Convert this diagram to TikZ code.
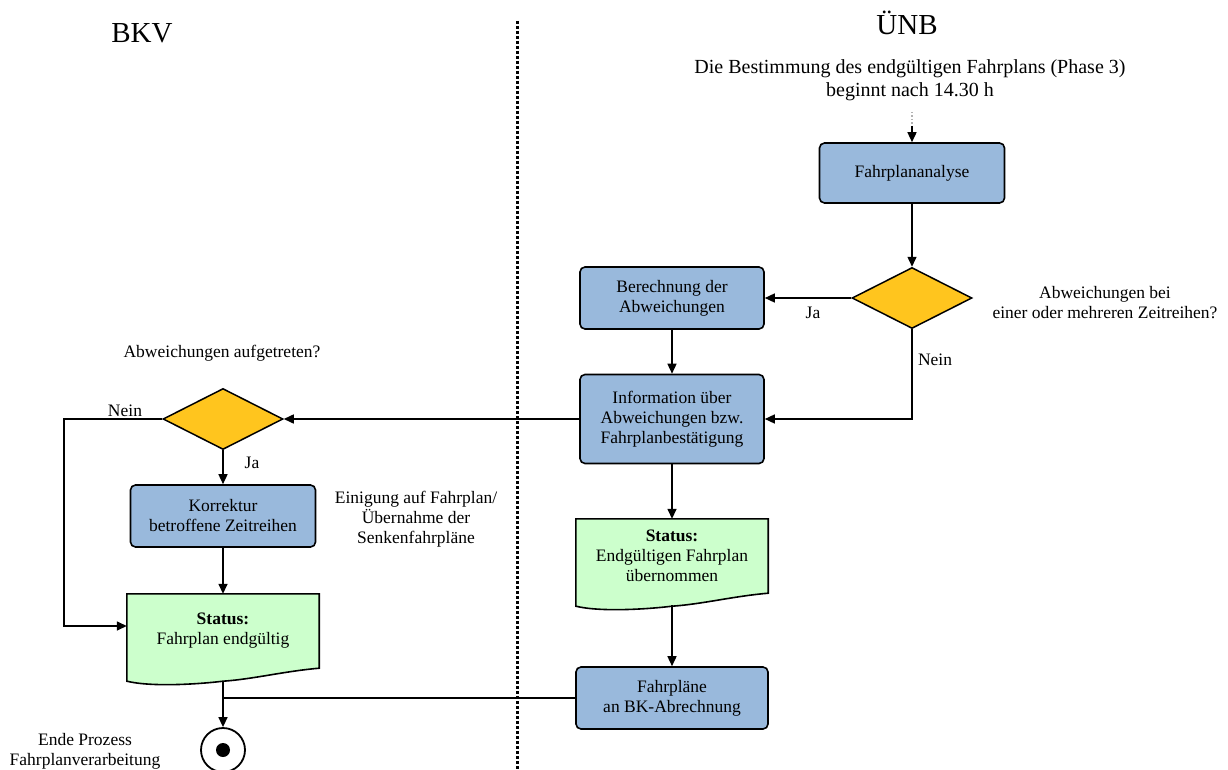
\documentclass[tikz,border=0pt]{standalone}
\usepackage{fontspec}
\setmainfont{Liberation Serif}
\usetikzlibrary{shapes.geometric,arrows.meta,backgrounds}

\definecolor{boxblue}{RGB}{153,185,220}
\definecolor{decyellow}{RGB}{255,197,30}
\definecolor{statusgreen}{RGB}{204,255,204}

\tikzset{
  every node/.style={font=\fontsize{17.5}{20}\selectfont},
  process/.style={draw, fill=boxblue, line width=1.6pt, rounded corners=5pt,
    align=center, inner sep=0pt},
  decision/.style={diamond, draw, fill=decyellow, line width=1.5pt, aspect=2,
    minimum width=120pt, minimum height=61pt, inner sep=0pt},
  statusbox/.style={align=center, inner sep=0pt, minimum width=192pt, minimum height=74pt},
  flow/.style={line width=1.5pt, -{Triangle[length=10pt,width=9pt]}},
  plain/.style={line width=1.5pt},
  heading/.style={font=\fontsize{29}{32}\selectfont}
}

% Document shape with wavy bottom behind a status node
\newcommand{\statusdoc}[1]{%
  \begin{pgfonlayer}{background}
    \filldraw[fill=statusgreen, line width=1.6pt]
      (#1.south east) -- (#1.north east) -- (#1.north west) -- ([yshift=-13pt]#1.south west)
      .. controls +(25pt,-6pt) and +(-25pt,-3pt) .. ([yshift=-13pt]#1.south)
      .. controls +(30pt,2pt) and +(-35pt,-3pt) .. (#1.south east) -- cycle;
  \end{pgfonlayer}}

\begin{document}
\begin{tikzpicture}[x=1pt,y=1pt]
  \useasboundingbox (0,0) rectangle (1228,-770);

  % Lanes
  \draw[line width=3pt, dash pattern=on 3pt off 2pt] (517,-21) -- (517,-770);
  \node[heading] (bkv) at (142,-33) {BKV};
  \node[heading] (unb) at (907,-23) {ÜNB};

  % UENB lane
  \node[align=center, font=\fontsize{20}{23}\selectfont] (intro) at (910,-80)
    {Die Bestimmung des endgültigen Fahrplans (Phase 3)\\beginnt nach 14.30 h};
  \coordinate (dotstart) at (912,-112);
  \coordinate (dotend) at (912,-126);
  \node[process, minimum width=185pt, minimum height=60pt] (fpa) at (912,-173) {Fahrplananalyse};
  \node[decision] (dec1) at (912,-298) {};
  \node[align=center] (q1) at (1105,-303) {Abweichungen bei\\einer oder mehreren Zeitreihen?};
  \node[process, minimum width=184pt, minimum height=62pt] (ber) at (672,-298)
    {Berechnung der\\Abweichungen};
  \node[process, minimum width=184pt, minimum height=89pt] (info) at (672,-419)
    {Information über\\Abweichungen bzw.\\Fahrplanbestätigung};
  \node[statusbox] (stu) at (672,-556) {\textbf{Status:}\\Endgültigen Fahrplan\\übernommen};
  \statusdoc{stu}
  \node[process, minimum width=192pt, minimum height=62pt] (fpl) at (672,-698)
    {Fahrpläne\\an BK-Abrechnung};

  % BKV lane
  \node (q2) at (222,-353) {Abweichungen aufgetreten?};
  \node[decision] (dec2) at (223,-419) {};
  \node[process, minimum width=185pt, minimum height=62pt] (kor) at (223,-516)
    {Korrektur\\betroffene Zeitreihen};
  \node[align=center] (agree) at (416,-519) {Einigung auf Fahrplan/\\Übernahme der\\Senkenfahrpläne};
  \node[statusbox] (stb) at (223,-631) {\textbf{Status:}\\Fahrplan endgültig};
  \statusdoc{stb}
  \node[draw, circle, line width=1.8pt, minimum size=44pt, inner sep=0pt] (endc) at (223,-750) {};
  \node[circle, fill, minimum size=14pt, inner sep=0pt] (enddot) at (endc) {};
  \node[align=center] (endtext) at (85,-751) {Ende Prozess\\Fahrplanverarbeitung};
  \coordinate (nein2) at (64,-419);

  % Connectors
  \draw[line width=1.4pt, dotted, gray!60] (dotstart) -- (dotend);
  \draw[flow] (dotend) -- (fpa.north);
  \draw[flow] (fpa.south) -- (dec1.north);
  \draw[flow] (dec1.west) -- (ber.east);
  \node (ja1) at (813,-313) {Ja};
  \draw[flow] (dec1.south) |- (info.east);
  \node (nein1) at (935,-360) {Nein};
  \draw[flow] (ber.south) -- (info.north);
  \draw[flow] (info.west) -- (dec2.east);
  \draw[flow] (info.south) -- (stu.north);
  \draw[flow] ([yshift=-12pt]stu.south) -- (fpl.north);
  \draw[flow] (dec2.west) -- (nein2) |- ([yshift=5pt]stb.west);
  \node (nein3) at (125,-411) {Nein};
  \draw[flow] (dec2.south) -- (kor.north);
  \node (ja2) at (252,-463) {Ja};
  \draw[flow] (kor.south) -- (stb.north);
  \draw[flow] ([yshift=-13pt]stb.south) -- (endc.north);
  \draw[plain] (fpl.west) -- (fpl.west -| endc);
\end{tikzpicture}
\end{document}
